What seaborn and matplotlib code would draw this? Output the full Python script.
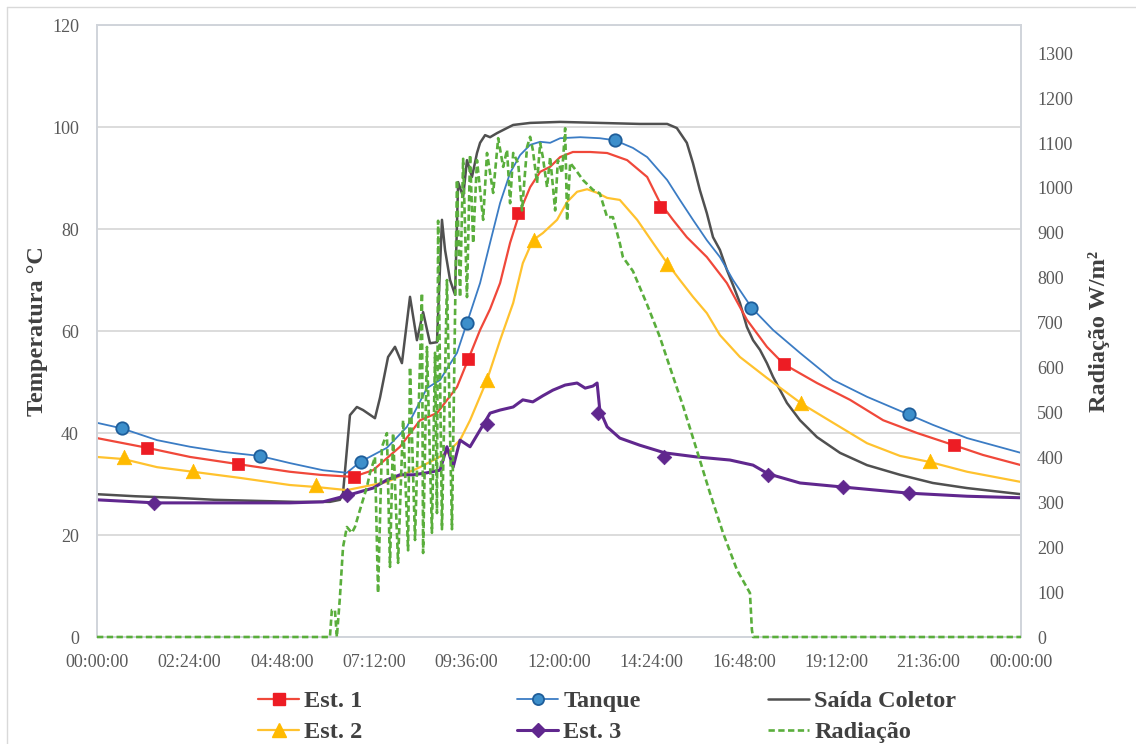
import numpy as np
import pandas as pd
import matplotlib
matplotlib.use("Agg")
import matplotlib.pyplot as plt
from matplotlib.lines import Line2D
import seaborn as sns

# ---------------- data (time in hours of day) ----------------
tick_hours = [0, 2.4, 4.8, 7.2, 9.6, 12.0, 14.4, 16.8, 19.2, 21.6, 24.0]
tick_labels = ["00:00:00", "02:24:00", "04:48:00", "07:12:00", "09:36:00", "12:00:00",
               "14:24:00", "16:48:00", "19:12:00", "21:36:00", "00:00:00"]
temp_ticks = [0, 20, 40, 60, 80, 100, 120]
rad_ticks = list(range(0, 1400, 100))

coletor_t = [0.00, 0.99, 2.03, 3.06, 4.10, 5.14, 6.05, 6.31, 6.39, 6.49, 6.57, 6.75, 6.91, 7.22,
             7.35, 7.56, 7.74, 7.92, 8.13, 8.31, 8.47, 8.65, 8.83, 8.96, 9.04, 9.17, 9.30, 9.38,
             9.51, 9.61, 9.74, 9.87, 9.95, 10.08, 10.21, 10.39, 10.65, 10.81, 11.25, 12.03, 13.06,
             14.10, 14.81, 15.06, 15.32, 15.48, 15.66, 15.84, 16.00, 16.18, 16.36, 16.52, 16.70,
             16.88, 17.04, 17.22, 17.40, 17.56, 17.92, 18.26, 18.70, 19.30, 20.00, 20.86, 21.71,
             22.60, 24.00]
coletor_v = [28.0, 27.6, 27.3, 26.9, 26.7, 26.5, 26.5, 26.9, 28.2, 36.7, 43.5, 45.1, 44.5, 42.9,
             46.9, 54.9, 56.9, 53.7, 66.7, 58.2, 63.7, 57.6, 57.8, 81.8, 75.9, 70.0, 67.1, 89.2,
             86.3, 93.5, 90.2, 94.9, 96.9, 98.4, 98.0, 98.8, 99.8, 100.4, 100.8, 101.0, 100.8,
             100.6, 100.6, 99.8, 96.9, 92.9, 87.6, 83.1, 78.4, 75.9, 72.0, 69.0, 65.5,
             60.8, 58.2, 56.3, 53.7, 51.0, 45.9, 42.5, 39.2, 36.1, 33.7, 31.8, 30.2,
             29.2, 28.0]

tanque_t = [0.00, 0.65, 1.56, 2.42, 3.27, 4.23, 5.01, 5.87, 6.49, 6.83, 7.53, 8.05, 8.57, 8.91,
            9.35, 9.61, 9.95, 10.21, 10.47, 10.73, 10.99, 11.25, 11.51, 11.77, 12.03, 12.55,
            13.06, 13.45, 13.92, 14.29, 14.81, 15.14, 15.48, 15.84, 16.18, 16.52, 17.01, 17.56,
            18.26, 19.12, 20.00, 21.09, 21.71, 22.60, 24.00]
tanque_v = [42.0, 40.9, 38.6, 37.3, 36.3, 35.5, 34.1, 32.7, 32.2, 34.3, 37.1, 41.2, 48.8, 50.4,
            55.7, 61.6, 69.4, 77.3, 85.1, 91.0, 94.5, 96.5, 97.1, 96.9, 97.8, 98.0,
            97.8, 97.4, 95.9, 94.1, 89.6, 85.7, 81.8, 77.8, 74.5, 70.0, 64.5, 60.2,
            55.7, 50.4, 47.1, 43.6, 41.6, 39.0, 36.1]

est1_t = [0.00, 1.30, 2.42, 3.66, 5.01, 5.79, 6.65, 7.17, 7.87, 8.39, 8.83, 9.35, 9.64, 9.95,
          10.21, 10.47, 10.73, 10.99, 11.25, 11.51, 11.77, 12.03, 12.36, 12.81, 13.25, 13.77,
          14.29, 14.62, 14.96, 15.32, 15.84, 16.36, 16.88, 17.40, 17.84, 18.70, 19.56, 20.42,
          21.30, 22.26, 23.01, 24.00]
est1_v = [39.0, 37.1, 35.3, 33.9, 32.4, 31.8, 31.4, 32.7, 37.3, 42.5, 43.9, 49.0, 54.4, 60.2,
          64.3, 69.4, 77.3, 83.5, 88.2, 91.2, 92.2, 94.1, 95.1, 95.1, 94.9, 93.5,
          90.2, 85.2, 81.8, 78.4, 74.5, 69.4, 62.2, 56.9, 53.5, 49.8, 46.5, 42.5,
          40.0, 37.6, 35.7, 33.7]

est2_t = [0.00, 0.68, 1.56, 2.49, 3.71, 5.01, 5.71, 6.49, 7.53, 8.39, 9.09, 9.43, 9.69, 10.13,
          10.47, 10.81, 11.06, 11.32, 11.58, 11.95, 12.21, 12.47, 12.73, 12.99, 13.25, 13.58,
          14.03, 14.44, 14.81, 15.14, 15.48, 15.84, 16.18, 16.70, 17.40, 18.31, 19.12, 20.00,
          20.86, 21.64, 22.60, 24.00]
est2_v = [35.3, 34.9, 33.3, 32.4, 31.2, 29.8, 29.4, 28.8, 30.4, 33.3, 36.1, 38.6, 42.5, 50.4,
          58.2, 65.5, 73.3, 77.8, 79.2, 81.8, 85.3, 87.3, 87.8, 87.1, 86.1, 85.7,
          81.8, 77.3, 73.3, 70.0, 66.7, 63.5, 59.2, 54.9, 50.8, 45.7, 42.0, 38.0,
          35.5, 34.3, 32.4, 30.4]

est3_t = [0.00, 1.51, 3.27, 5.01, 5.87, 6.52, 7.17, 7.53, 7.87, 8.21, 8.57, 8.91, 9.09, 9.25,
          9.43, 9.69, 10.03, 10.21, 10.47, 10.81, 11.06, 11.32, 11.58, 11.84, 12.16, 12.47,
          12.68, 12.88, 12.99, 13.06, 13.25, 13.58, 14.10, 14.75, 15.58, 16.44, 17.04, 17.43,
          18.26, 19.38, 21.09, 22.60, 24.00]
est3_v = [26.9, 26.3, 26.3, 26.3, 26.5, 27.8, 29.2, 30.8, 31.8, 31.8, 32.2, 32.7, 37.3, 33.3,
          38.6, 37.3, 41.6, 43.9, 44.5, 45.1, 46.5, 46.1, 47.3, 48.4, 49.4, 49.8,
          48.8, 49.2, 49.8, 44.5, 41.2, 39.0, 37.6, 36.1, 35.3, 34.7, 33.7, 32.0,
          30.2, 29.4, 28.2, 27.6, 27.3]

rad_t = [0.00, 6.05, 6.10, 6.18, 6.23, 6.31, 6.39, 6.49, 6.62, 6.70, 6.83, 7.01, 7.09, 7.22,
         7.30, 7.40, 7.53, 7.61, 7.69, 7.82, 7.95, 8.08, 8.13, 8.26, 8.44, 8.47, 8.57, 8.70,
         8.78, 8.83, 8.86, 8.96, 9.09, 9.22, 9.35, 9.43, 9.51, 9.61, 9.69, 9.77, 9.87, 10.03,
         10.13, 10.29, 10.42, 10.55, 10.65, 10.73, 10.81, 10.94, 11.04, 11.17, 11.25, 11.32,
         11.43, 11.51, 11.58, 11.69, 11.77, 11.90, 11.97, 12.08, 12.16, 12.21, 12.29, 12.47,
         12.62, 12.88, 13.06, 13.25, 13.40, 13.58, 13.66, 13.92, 14.29, 14.62, 14.88, 15.22,
         15.58, 15.92, 16.26, 16.62, 16.96, 17.01, 17.04, 24.00]
rad_v = [0, 0, 60, 60, 0, 89, 200, 245, 232, 245, 283, 334, 365, 401,
         98, 423, 454, 156, 454, 165, 483, 193, 601, 216, 766, 187, 646, 232,
         633, 276, 927, 240, 795, 240, 1018, 757, 1065, 757, 1074, 877, 1062, 929,
         1078, 989, 1111, 1047, 1085, 966, 1078, 1055, 950, 1091, 1114, 1085,
         1011, 1100, 1069, 1002, 1069, 950, 1062, 1033, 1133, 927, 1056, 1036,
         1018, 996, 988, 935, 935, 877, 846, 815, 740, 668, 601, 515,
         416, 321, 232, 150, 98, 16, 0, 0]

# marker positions (as drawn by the spreadsheet, every n-th sample)
est1_mk_t = [1.30, 3.66, 6.68, 9.64, 10.94, 14.62, 17.84, 22.26]
est1_mk_v = [37.1, 34.0, 31.4, 54.5, 83.1, 84.3, 53.5, 37.6]
tanque_mk_t = [0.65, 4.23, 6.86, 9.61, 13.45, 16.99, 21.09]
tanque_mk_v = [41.0, 35.5, 34.3, 61.6, 97.5, 64.5, 43.7]
est2_mk_t = [0.70, 2.49, 5.69, 10.13, 11.35, 14.81, 18.29, 21.64]
est2_mk_v = [35.3, 32.5, 29.8, 50.4, 77.8, 73.1, 45.9, 34.5]
est3_mk_t = [1.48, 6.49, 10.13, 13.01, 14.73, 17.43, 19.38, 21.09]
est3_mk_v = [26.3, 27.8, 41.8, 43.9, 35.3, 31.8, 29.4, 28.2]

# ---------------- style ----------------
sns.set_style("white")
plt.rcParams['font.family'] = ['Liberation Serif', 'DejaVu Serif']

C_EST1, C_EST1_MK = "#F0483A", "#ED1C24"
C_TANQ, C_TANQ_MK, C_TANQ_EDGE = "#3B7CC4", "#3D8FCB", "#1F5E9A"
C_COL = "#505050"
C_EST2, C_EST2_MK = "#FFC22E", "#FFBA00"
C_EST3 = "#60278E"
C_RAD = "#5AAE3C"
TXT = "#404040"
TICK = "#595959"

W, H = 1136, 744
fig = plt.figure(figsize=(W / 100, H / 100), dpi=100)
ax = fig.add_axes([97 / W, 107 / H, (1021 - 97) / W, (637 - 25) / H])
ax2 = ax.twinx()

# temperature lines
sns.lineplot(x=coletor_t, y=coletor_v, ax=ax, color=C_COL, lw=1.8, estimator=None, sort=False, legend=False)
sns.lineplot(x=est2_t, y=est2_v, ax=ax, color=C_EST2, lw=1.6, estimator=None, sort=False, legend=False)
sns.lineplot(x=est1_t, y=est1_v, ax=ax, color=C_EST1, lw=1.6, estimator=None, sort=False, legend=False)
sns.lineplot(x=tanque_t, y=tanque_v, ax=ax, color=C_TANQ, lw=1.3, estimator=None, sort=False, legend=False)
sns.lineplot(x=est3_t, y=est3_v, ax=ax, color=C_EST3, lw=2.2, estimator=None, sort=False, legend=False)

# markers
sns.scatterplot(x=est1_mk_t, y=est1_mk_v, ax=ax, marker='s', s=70, color=C_EST1_MK, edgecolor=C_EST1_MK,
                linewidth=0.5, legend=False, zorder=5)
sns.scatterplot(x=tanque_mk_t, y=tanque_mk_v, ax=ax, marker='o', s=80, color=C_TANQ_MK, edgecolor=C_TANQ_EDGE,
                linewidth=1.3, legend=False, zorder=5)
sns.scatterplot(x=est2_mk_t, y=est2_mk_v, ax=ax, marker='^', s=110, color=C_EST2_MK, edgecolor=C_EST2_MK,
                linewidth=0.5, legend=False, zorder=5)
sns.scatterplot(x=est3_mk_t, y=est3_mk_v, ax=ax, marker='D', s=55, color=C_EST3, edgecolor=C_EST3,
                linewidth=0.5, legend=False, zorder=5)

# radiation (secondary axis)
sns.lineplot(x=rad_t, y=rad_v, ax=ax2, color=C_RAD, lw=1.9, linestyle=(0, (2.4, 1.3)),
             estimator=None, sort=False, legend=False, clip_on=False, zorder=4)

# axes
ax.set_xlim(0, 24)
ax.set_ylim(0, 120)
ax2.set_ylim(0, 1363)
ax.set_xticks(tick_hours)
ax.set_xticklabels(tick_labels)
ax.set_yticks(temp_ticks)
ax2.set_yticks(rad_ticks)
ax.yaxis.grid(True, color="#D9D9D9", lw=1.3)
ax.xaxis.grid(False)
ax2.grid(False)
ax.set_axisbelow(True)
for a in (ax, ax2):
    for side, sp in a.spines.items():
        sp.set_color("#D0D4DA")
        sp.set_linewidth(1.2)
    a.tick_params(length=0, labelsize=13, labelcolor=TICK)
ax.tick_params(axis='x', pad=12)
ax.tick_params(axis='y', pad=13)
ax2.tick_params(axis='y', pad=11.5)

ax.set_ylabel("Temperatura °C", fontsize=17.5, fontweight='bold', color=TXT, labelpad=3)
ax2.set_ylabel("Radiação W/m²", fontsize=17.5, fontweight='bold', color=TXT, labelpad=11)
ax.set_xlabel("")

# legend (three columns)
h_est1 = Line2D([], [], color=C_EST1, lw=1.6, marker='s', ms=8, mfc=C_EST1_MK, mec=C_EST1_MK)
h_est2 = Line2D([], [], color=C_EST2, lw=1.6, marker='^', ms=10, mfc=C_EST2_MK, mec=C_EST2_MK)
h_tanq = Line2D([], [], color=C_TANQ, lw=1.3, marker='o', ms=8, mfc=C_TANQ_MK, mec=C_TANQ_EDGE, mew=1.3)
h_est3 = Line2D([], [], color=C_EST3, lw=2.2, marker='D', ms=7, mfc=C_EST3, mec=C_EST3)
h_col = Line2D([], [], color=C_COL, lw=1.8)
h_rad = Line2D([], [], color=C_RAD, lw=1.9, linestyle=(0, (2.4, 1.3)))

for handles, labels, x in [([h_est1, h_est2], ["Est. 1", "Est. 2"], 258),
                           ([h_tanq, h_est3], ["Tanque", "Est. 3"], 517),
                           ([h_col, h_rad], ["Saída Coletor", "Radiação"], 768)]:
    leg = fig.legend(handles, labels, loc='upper left', bbox_to_anchor=(x / W, 1 - 690 / H),
                     frameon=False, borderpad=0, borderaxespad=0, handlelength=1.7,
                     handletextpad=0.2, labelspacing=0.37,
                     prop={'size': 17.5, 'weight': 'bold'})
    for t in leg.get_texts():
        t.set_color(TXT)

# outer chart border
fig.add_artist(Line2D([7 / W, 7 / W], [0, 1 - 7 / H], transform=fig.transFigure, color="#D9D9D9", lw=1))
fig.add_artist(Line2D([7 / W, 1], [1 - 7 / H, 1 - 7 / H], transform=fig.transFigure, color="#D9D9D9", lw=1))

fig.savefig("out.png", dpi=100)
